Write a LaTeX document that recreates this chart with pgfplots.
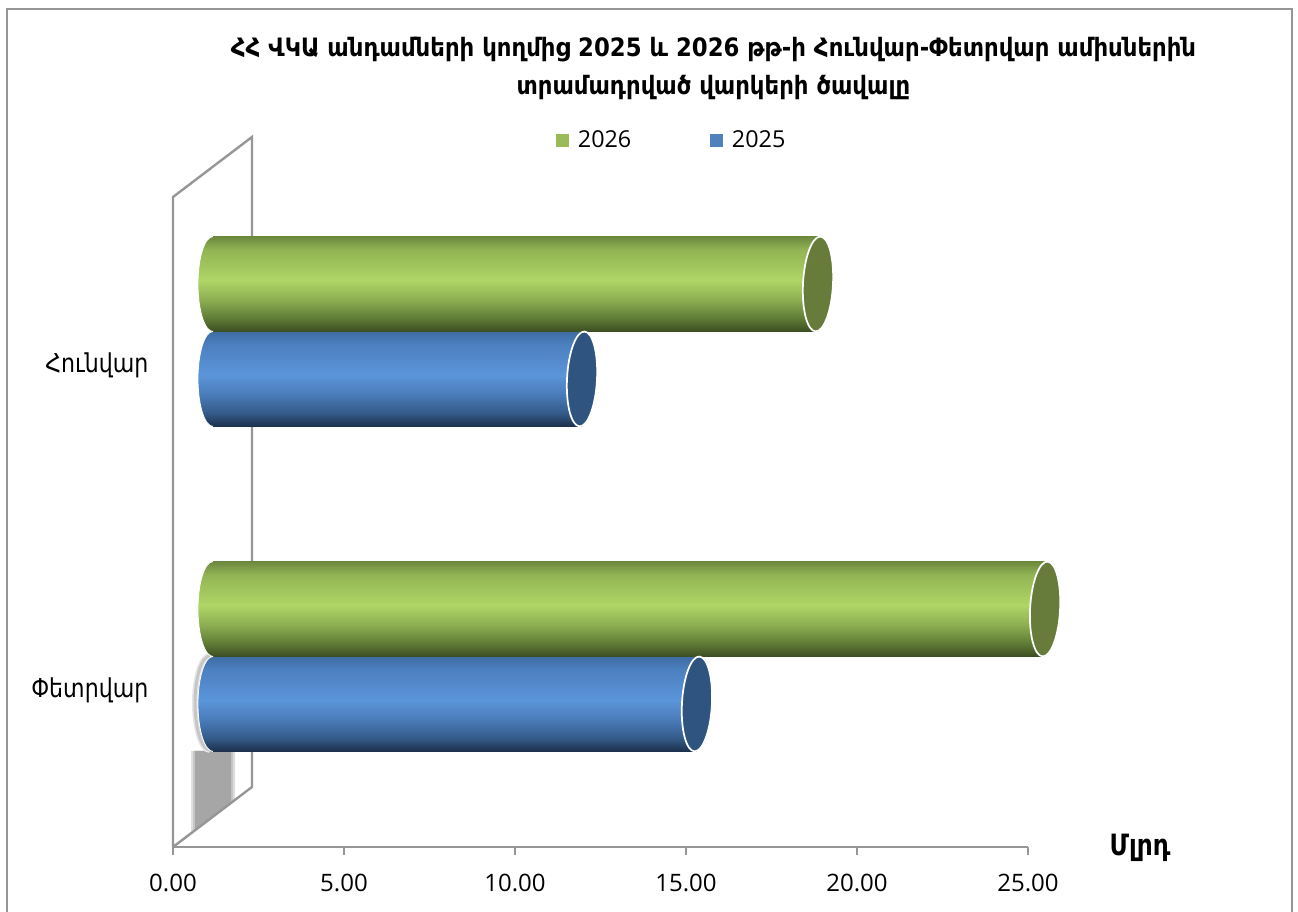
\documentclass[border=0pt]{standalone}
\usepackage{fontspec}
\usepackage{pgfplots}
\pgfplotsset{compat=1.18}
\setmainfont{Open Sans}
\newfontfamily\arm[FakeStretch=0.85]{DejaVu Sans}
\newfontfamily\armt[FakeStretch=0.9]{DejaVu Sans}

\definecolor{wallgray}{HTML}{969696}
\definecolor{leggreen}{HTML}{9BBB59}
\definecolor{legblue}{HTML}{4F81BD}

% cylinder gradients (bottom to top)
\pgfdeclareverticalshading{cylgreen}{100bp}{
  color(0bp)=(white);
  color(25bp)=(rgb,255:red,60;green,78;blue,34);
  color(32bp)=(rgb,255:red,96;green,124;blue,54);
  color(42bp)=(rgb,255:red,142;green,176;blue,82);
  color(52bp)=(rgb,255:red,175;green,214;blue,102);
  color(68bp)=(rgb,255:red,146;green,180;blue,84);
  color(75bp)=(rgb,255:red,108;green,136;blue,62);
  color(100bp)=(white)}
\pgfdeclareverticalshading{cylblue}{100bp}{
  color(0bp)=(white);
  color(25bp)=(rgb,255:red,28;green,48;blue,76);
  color(32bp)=(rgb,255:red,52;green,90;blue,136);
  color(42bp)=(rgb,255:red,74;green,124;blue,186);
  color(52bp)=(rgb,255:red,91;green,149;blue,218);
  color(68bp)=(rgb,255:red,76;green,128;blue,192);
  color(75bp)=(rgb,255:red,62;green,108;blue,164);
  color(100bp)=(white)}

% left ends and right lids of the cylinders
\pgfdeclareplotmark{startgreen}{
  \pgftransformshift{\pgfpoint{0pt}{35.6pt}}
  \path[shade,shading=cylgreen,draw=white,line width=0.6pt]
    (0pt,35.6pt) arc[start angle=90,end angle=270,x radius=11.25pt,y radius=35.6pt];}
\pgfdeclareplotmark{startblue}{
  \pgftransformshift{\pgfpoint{0pt}{-35.6pt}}
  \path[shade,shading=cylblue,draw=white,line width=0.6pt]
    (0pt,35.6pt) arc[start angle=90,end angle=270,x radius=11.25pt,y radius=35.6pt];}
\pgfdeclareplotmark{lidgreen}{
  \pgftransformshift{\pgfpoint{0pt}{35.6pt}}
  \pgftransformrotate{-3}
  \path[fill={rgb,255:red,103;green,124;blue,58},draw=white,line width=1.3pt]
    (0pt,0pt) ellipse[x radius=11.25pt,y radius=35.6pt];}
\pgfdeclareplotmark{lidblue}{
  \pgftransformshift{\pgfpoint{0pt}{-35.6pt}}
  \pgftransformrotate{-3}
  \path[fill={rgb,255:red,47;green,84;blue,128},draw=white,line width=1.3pt]
    (0pt,0pt) ellipse[x radius=11.25pt,y radius=35.6pt];}

\begin{document}
\begin{tikzpicture}[x=0.75pt,y=0.75pt]
  \path[use as bounding box] (0,0) rectangle (1298,912);
  \draw[wallgray,line width=1.6pt] (7,0) -- (7,903) -- (1292,903) -- (1292,0);

  % shadow under the lower bar
  \fill[gray!25] (191,79) -- (235,112) -- (235,161) -- (191,161) -- cycle;
  \fill[gray!45] (193,80) -- (233,110) -- (233,161) -- (193,161) -- cycle;
  \fill[gray!70] (195,81) -- (231,108) -- (231,161) -- (195,161) -- cycle;
  \draw[gray!20,line width=4.5pt] (210,256) arc[start angle=90,end angle=270,x radius=15,y radius=47];
  \draw[gray!45,line width=2.2pt] (210,256) arc[start angle=90,end angle=270,x radius=15,y radius=47];

  % side wall and floor
  \draw[wallgray,line width=1.8pt] (173,65) -- (173,715) -- (252,775) -- (252,125) -- (173,65);

  \begin{axis}[
    at={(129.75pt,48.75pt)},
    anchor=south west,
    scale only axis,
    width=641.25pt,
    height=487.5pt,
    xmin=0, xmax=25,
    ymin=-0.5, ymax=1.5,
    axis x line*=bottom,
    axis y line*=left,
    axis line style={wallgray,line width=1.8pt},
    xtick={0,5,10,15,20,25},
    ytick={0,1},
    yticklabels={{\arm Փետրվար},{\arm Հունվար}},
    ytick style={draw=none},
    xtick style={wallgray,line width=1.4pt},
    tick align=outside,
    major tick length=6pt,
    xticklabel style={font=\fontsize{18}{21}\selectfont,yshift=-10.5pt,
      /pgf/number format/.cd,fixed,fixed zerofill,precision=2,assume math mode=true},
    yticklabel style={font=\fontsize{19.5}{22}\selectfont,xshift=-9pt,yshift=-4.5pt},
    xlabel={\arm Մլրդ},
    xlabel style={at={(1.131,-0.001)},anchor=center,font=\fontsize{22}{25}\selectfont\bfseries},
    title={\armt ՀՀ ՎԿԱ անդամների կողմից 2025 և 2026 թթ-ի Հունվար-Փետրվար ամիսներին\\\armt տրամադրված վարկերի ծավալը},
    title style={at={(0.632,1.185)},anchor=center,align=center,font=\fontsize{19}{28.5}\selectfont\bfseries},
    legend style={at={(0.584,1.0875)},anchor=center,draw=none,fill=none,legend columns=2,
      font=\fontsize{17.5}{20}\selectfont,
      /tikz/every odd column/.append style={column sep=5pt},
      /tikz/every even column/.append style={column sep=57.5pt}},
    legend cell align=left,
  ]
  \addlegendimage{only marks,mark=square*,mark size=4.5pt,color=leggreen}
  \addlegendentry{2026}
  \addlegendimage{only marks,mark=square*,mark size=4.5pt,color=legblue}
  \addlegendentry{2025}
  \end{axis}

  % bars, moved back by the depth of the floor
  \begin{axis}[
    at={(159.75pt,69.75pt)},
    anchor=south west,
    scale only axis,
    width=641.25pt,
    height=487.5pt,
    xmin=0, xmax=25,
    ymin=-0.5, ymax=1.5,
    hide axis,
    clip=false,
  ]
  % 2025, one plot per bar so that each has its own gradient
  \addplot[xbar,bar width=71.2pt,bar shift=-35.6pt,draw=none,shade,shading=cylblue] coordinates {(14.15,0)};
  \addplot[xbar,bar width=71.2pt,bar shift=-35.6pt,draw=none,shade,shading=cylblue] coordinates {(10.79,1)};
  \addplot[only marks,mark=startblue] coordinates {(0,0) (0,1)};
  \addplot[only marks,mark=lidblue] coordinates {(14.15,0) (10.79,1)};
  % 2026
  \addplot[xbar,bar width=71.2pt,bar shift=35.6pt,draw=none,shade,shading=cylgreen] coordinates {(24.33,0)};
  \addplot[xbar,bar width=71.2pt,bar shift=35.6pt,draw=none,shade,shading=cylgreen] coordinates {(17.69,1)};
  \addplot[only marks,mark=startgreen] coordinates {(0,0) (0,1)};
  \addplot[only marks,mark=lidgreen] coordinates {(24.33,0) (17.69,1)};
  \end{axis}
\end{tikzpicture}
\end{document}
